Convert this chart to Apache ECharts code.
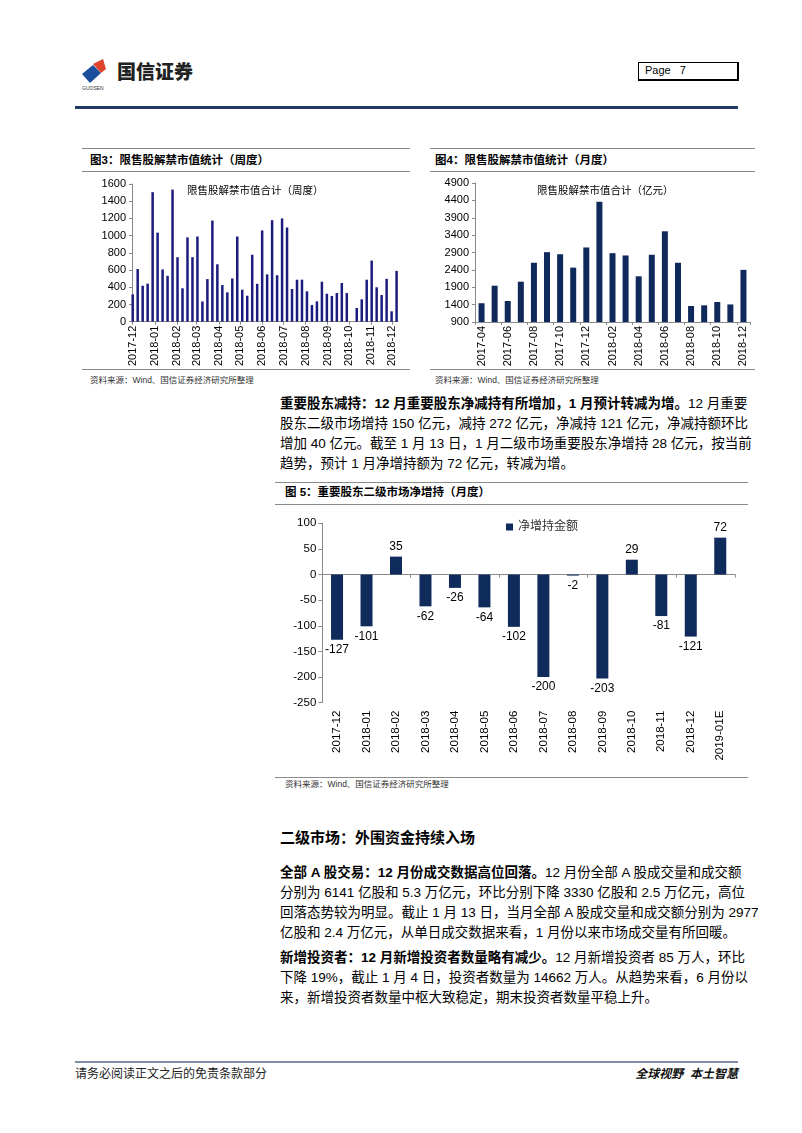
<!DOCTYPE html>
<html><head><meta charset="utf-8">
<script src="https://cdn.jsdelivr.net/npm/echarts@6.0.0/dist/echarts.min.js"></script>
<style>
html,body{margin:0;padding:0;background:#fff}
body{width:802px;height:1133px;position:relative;overflow:hidden;font-family:"Liberation Sans","Noto Sans CJK SC",sans-serif;color:#000}
.abs{position:absolute}
.hl{position:absolute;height:0;border-top:1px solid #8a8a8a}
.ftitle{position:absolute;font-size:11.5px;font-weight:bold;white-space:nowrap;line-height:14px}
.src{position:absolute;font-size:8.5px;color:#333;white-space:nowrap;line-height:11px}
.ln{position:absolute;left:280px;width:458px;height:20px;line-height:20px;font-size:13.5px;white-space:nowrap}
.j{text-align:justify;text-align-last:justify}
.ch{position:absolute}
</style></head>
<body>
<!-- header -->
<div class="abs" style="left:80px;top:56px;width:34px;height:30px">
<svg width="34" height="30" viewBox="0 0 34 30">
<polygon points="2,18 13,9 21,17 10,27" fill="#1b4f9c"/>
<polygon points="13,8 23,3 26,13 21,17" fill="#e0452c"/>
</svg></div>
<div class="abs" style="left:117px;top:60px;font-family:'Noto Sans CJK SC';font-weight:900;font-size:19px;line-height:22px;color:#222">国信证券</div>
<div class="abs" style="left:82px;top:85px;font-size:5px;color:#333">GUOSEN</div>
<div class="abs" style="left:638px;top:62px;width:98px;height:16px;border:1px solid #000;border-right-width:2px;border-bottom-width:2px;font-size:11px;line-height:15px"><span style="margin-left:6px">Page&nbsp;&nbsp;&nbsp;7</span></div>
<div class="abs" style="left:75px;top:106px;width:663px;height:3px;background:#1f3864"></div>

<!-- figure 3 -->
<div class="hl" style="left:82px;top:148px;width:328px"></div>
<div class="ftitle" style="left:90px;top:153px">图3：限售股解禁市值统计（周度）</div>
<div class="hl" style="left:82px;top:171px;width:328px"></div>
<div id="c3" class="ch" style="left:82px;top:172px;width:330px;height:196px"></div>
<div class="hl" style="left:82px;top:369px;width:328px"></div>
<div class="src" style="left:90px;top:375px">资料来源：Wind、国信证券经济研究所整理</div>

<!-- figure 4 -->
<div class="hl" style="left:430px;top:148px;width:325px"></div>
<div class="ftitle" style="left:435px;top:153px">图4：限售股解禁市值统计（月度）</div>
<div class="hl" style="left:430px;top:171px;width:325px"></div>
<div id="c4" class="ch" style="left:430px;top:172px;width:325px;height:196px"></div>
<div class="hl" style="left:430px;top:369px;width:325px"></div>
<div class="src" style="left:435px;top:375px">资料来源：Wind、国信证券经济研究所整理</div>

<!-- paragraph 1 -->
<div class="ln j" style="top:394px"><b>重要股东减持：12 月重要股东净减持有所增加，1 月预计转减为增。</b>12 月重要</div>
<div class="ln j" style="top:414px">股东二级市场增持 150 亿元，减持 272 亿元，净减持 121 亿元，净减持额环比</div>
<div class="ln j" style="top:434px">增加 40 亿元。截至 1 月 13 日，1 月二级市场重要股东净增持 28 亿元，按当前</div>
<div class="ln" style="top:454px">趋势，预计 1 月净增持额为 72 亿元，转减为增。</div>

<!-- figure 5 -->
<div class="hl" style="left:275px;top:482px;width:473px"></div>
<div class="ftitle" style="left:285px;top:485px">图 5：重要股东二级市场净增持（月度）</div>
<div class="hl" style="left:275px;top:504px;width:473px"></div>
<div id="c5" class="ch" style="left:275px;top:505px;width:473px;height:270px"></div>
<div class="hl" style="left:275px;top:777px;width:473px"></div>
<div class="src" style="left:285px;top:779px">资料来源：Wind、国信证券经济研究所整理</div>

<!-- section -->
<div class="ln" style="top:828px;font-size:15px;font-weight:bold">二级市场：外围资金持续入场</div>
<div class="ln j" style="top:863px"><b>全部 A 股交易：12 月份成交数据高位回落。</b>12 月份全部 A 股成交量和成交额</div>
<div class="ln j" style="top:883px">分别为 6141 亿股和 5.3 万亿元，环比分别下降 3330 亿股和 2.5 万亿元，高位</div>
<div class="ln j" style="top:903px">回落态势较为明显。截止 1 月 13 日，当月全部 A 股成交量和成交额分别为 2977</div>
<div class="ln" style="top:923px">亿股和 2.4 万亿元，从单日成交数据来看，1 月份以来市场成交量有所回暖。</div>

<div class="ln j" style="top:948px"><b>新增投资者：12 月新增投资者数量略有减少。</b>12 月新增投资者 85 万人，环比</div>
<div class="ln j" style="top:968px">下降 19%，截止 1 月 4 日，投资者数量为 14662 万人。从趋势来看，6 月份以</div>
<div class="ln" style="top:988px">来，新增投资者数量中枢大致稳定，期末投资者数量平稳上升。</div>

<!-- footer -->
<div class="abs" style="left:75px;top:1061px;width:663px;height:2px;background:#7d90a8"></div>
<div class="abs" style="left:75px;top:1066px;font-size:12px;line-height:16px;color:#222">请务必阅读正文之后的免责条款部分</div>
<div class="abs" style="left:600px;top:1066px;width:138px;text-align:right;font-size:12px;line-height:16px;font-weight:bold;font-style:italic;color:#111">全球视野&nbsp;&nbsp;本土智慧</div>

<script>
// ---------- data ----------
const weekDates = ['2017-12-01','2017-12-08','2017-12-15','2017-12-22','2017-12-29',
 '2018-01-05','2018-01-12','2018-01-19','2018-01-26','2018-02-02','2018-02-09','2018-02-16','2018-02-23',
 '2018-03-02','2018-03-09','2018-03-16','2018-03-23','2018-03-30','2018-04-06','2018-04-13','2018-04-20','2018-04-27',
 '2018-05-04','2018-05-11','2018-05-18','2018-05-25','2018-06-01','2018-06-08','2018-06-15','2018-06-22','2018-06-29',
 '2018-07-06','2018-07-13','2018-07-20','2018-07-27','2018-08-03','2018-08-10','2018-08-17','2018-08-24','2018-08-31',
 '2018-09-07','2018-09-14','2018-09-21','2018-09-28','2018-10-05','2018-10-12','2018-10-19','2018-10-26',
 '2018-11-02','2018-11-09','2018-11-16','2018-11-23','2018-11-30','2018-12-07'];
const weekValues = [318,612,418,442,1505,1035,607,533,1535,750,388,980,750,990,235,495,1175,667,426,341,502,990,372,302,778,440,1060,550,1180,540,1200,1095,380,488,488,353,194,237,465,325,299,333,450,333,0,159,260,488,710,400,310,498,121,590];
const weekTickDates = ['2017-12-01','2018-01-01','2018-02-01','2018-03-01','2018-04-01','2018-05-01','2018-06-01','2018-07-01','2018-08-01','2018-09-01','2018-10-01','2018-11-01','2018-12-01'];
const weekRange = ['2017-11-30','2018-12-09'];

const monthCats = ['2017-04','2017-05','2017-06','2017-07','2017-08','2017-09','2017-10','2017-11','2017-12','2018-01','2018-02','2018-03','2018-04','2018-05','2018-06','2018-07','2018-08','2018-09','2018-10','2018-11','2018-12'];
const monthValues = [1440,1945,1505,2060,2605,2910,2850,2465,3045,4360,2880,2815,2215,2835,3510,2605,1360,1380,1475,1405,2400];

const holdCats = ['2017-12','2018-01','2018-02','2018-03','2018-04','2018-05','2018-06','2018-07','2018-08','2018-09','2018-10','2018-11','2018-12','2019-01E'];
const holdValues = [-127,-101,35,-62,-26,-64,-102,-200,-2,-203,29,-81,-121,72];

// ---------- helpers ----------
const FONT = '"Liberation Sans","Noto Sans CJK SC",sans-serif';
function toTime(s){const p=s.split('-').map(Number);return new Date(p[0],p[1]-1,p[2]).getTime();}
function ym(v){const d=new Date(v);return d.getFullYear()+'-'+String(d.getMonth()+1).padStart(2,'0');}
function plain(v){return String(v);}
const AX = '#8a8a8a';

// ---------- chart 3 (weekly, dates on a continuous axis) ----------
try {
const tickVals = weekTickDates.map(toTime);
echarts.init(document.getElementById('c3')).setOption({
  animation:false,
  textStyle:{fontFamily:FONT},
  title:{text:'限售股解禁市值合计（周度）',left:100,top:9,textStyle:{fontSize:10.5,fontWeight:'normal',color:'#000',fontFamily:FONT}},
  grid:{left:50,top:12,right:14,height:137.7,containLabel:false,outerBoundsMode:'none'},
  xAxis:{type:'value',min:toTime(weekRange[0]),max:toTime(weekRange[1]),scale:true,
    axisLine:{lineStyle:{color:AX}},
    axisTick:{show:true,length:3,customValues:tickVals,lineStyle:{color:AX}},
    axisLabel:{customValues:tickVals,rotate:90,fontSize:11,color:'#000',margin:4,formatter:ym},
    splitLine:{show:false}},
  yAxis:{type:'value',min:0,max:1600,interval:200,
    axisLine:{show:true,lineStyle:{color:AX}},axisTick:{show:true,length:3,lineStyle:{color:AX}},
    axisLabel:{fontSize:11,color:'#000',margin:6,formatter:plain},splitLine:{show:false}},
  series:[{type:'bar',data:weekDates.map((d,i)=>[toTime(d),weekValues[i]]),barWidth:2.5,itemStyle:{color:'#1c1c7e'}}]
});
} catch(e){console.error(e);}

// ---------- chart 4 ----------
try {
echarts.init(document.getElementById('c4')).setOption({
  animation:false,
  textStyle:{fontFamily:FONT},
  title:{text:'限售股解禁市值合计（亿元）',left:102,top:9,textStyle:{fontSize:10.5,fontWeight:'normal',color:'#000',fontFamily:FONT}},
  grid:{left:45,top:11,right:5,height:139,containLabel:false,outerBoundsMode:'none'},
  xAxis:{type:'category',data:monthCats,
    axisLine:{lineStyle:{color:AX}},
    axisTick:{show:true,length:3,interval:1,lineStyle:{color:AX}},
    axisLabel:{interval:1,rotate:90,fontSize:11,color:'#000',margin:4}},
  yAxis:{type:'value',min:900,max:4900,interval:500,
    axisLine:{show:true,lineStyle:{color:AX}},axisTick:{show:true,length:3,lineStyle:{color:AX}},
    axisLabel:{fontSize:11,color:'#000',margin:6,formatter:plain},splitLine:{show:false}},
  series:[{type:'bar',data:monthValues,barWidth:6,itemStyle:{color:'#0f2a5a'}}]
});
} catch(e){console.error(e);}

// ---------- chart 5 ----------
try {
echarts.init(document.getElementById('c5')).setOption({
  animation:false,
  textStyle:{fontFamily:FONT},
  legend:{left:226,top:11,icon:'rect',itemWidth:7,itemHeight:7,itemGap:5,textStyle:{fontSize:12,color:'#333',fontFamily:FONT},data:['净增持金额']},
  grid:{left:47.3,top:18.3,right:13,height:179.4,containLabel:false,outerBoundsMode:'none'},
  xAxis:[
    {type:'category',data:holdCats,position:'bottom',
      axisLine:{onZero:true,lineStyle:{color:AX}},
      axisTick:{show:true,length:3,lineStyle:{color:AX}},
      axisLabel:{show:false}},
    {type:'category',data:holdCats,position:'bottom',
      axisLine:{show:false,onZero:false},axisTick:{show:false},
      axisLabel:{interval:0,rotate:90,fontSize:11.5,color:'#000',margin:8}}
  ],
  yAxis:{type:'value',min:-250,max:100,interval:50,
    axisLine:{show:true,lineStyle:{color:AX}},axisTick:{show:true,length:4,lineStyle:{color:AX}},
    axisLabel:{fontSize:11.5,color:'#000',margin:6,formatter:plain},splitLine:{show:false}},
  series:[{name:'净增持金额',type:'bar',xAxisIndex:0,data:holdValues,barWidth:12,itemStyle:{color:'#0f2b5b'},
    label:{show:true,position:'outside',distance:4,fontSize:12,color:'#000',fontFamily:FONT}}]
});
} catch(e){console.error(e);}
</script>
</body></html>
